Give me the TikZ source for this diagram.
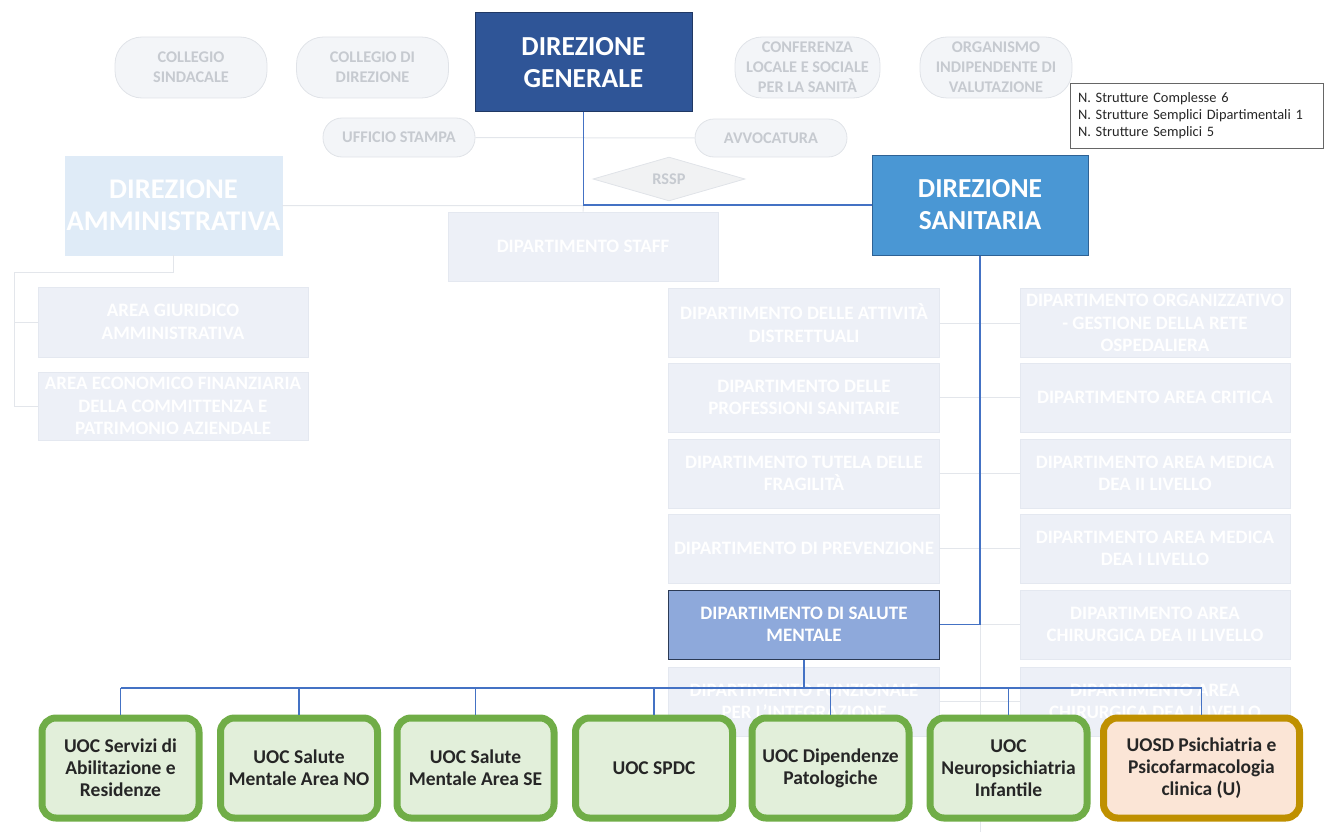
\documentclass[tikz,border=0pt]{standalone}
\usepackage{fontspec}
\setmainfont{Carlito}
\usepackage{tikz}
\usetikzlibrary{shapes.geometric}

\definecolor{dgblue}{HTML}{2F5597}
\definecolor{dgedge}{HTML}{203864}
\definecolor{dsblue}{HTML}{4A97D4}
\definecolor{dsedge}{HTML}{2E6295}
\definecolor{dsmfill}{HTML}{8EA9DB}
\definecolor{dsmedge}{HTML}{2B3A55}
\definecolor{fadefill}{HTML}{EDF0F7}
\definecolor{fadeedge}{HTML}{E4E8F0}
\definecolor{dafill}{HTML}{DFEBF7}
\definecolor{pillfill}{HTML}{F3F5F8}
\definecolor{pilledge}{HTML}{E0E3E8}
\definecolor{pilltext}{HTML}{C6CAD0}
\definecolor{linkblue}{HTML}{4472C4}
\definecolor{fadeline}{HTML}{E3E6EB}
\definecolor{uocedge}{HTML}{70AD47}
\definecolor{uocfill}{HTML}{E2EFDA}
\definecolor{uosdedge}{HTML}{BF9000}
\definecolor{uosdfill}{HTML}{FBE5D6}

\newcommand\bigtxt{\fontsize{27.5}{32}\selectfont\bfseries}
\newcommand\deptxt{\fontsize{19}{22.5}\selectfont\bfseries}
\newcommand\pilltxt{\fontsize{16.3}{20}\selectfont\bfseries}
\newcommand\uoctxt{\fontsize{19.5}{22}\selectfont\bfseries}
\newcommand\infotxt{\fontsize{14.4}{17}\selectfont}

\begin{document}
\begin{tikzpicture}[x=1pt,y=-1pt,
    topbox/.style={draw=#1, line width=1pt, align=center, text=white, font=\bigtxt,
      minimum width=216pt, minimum height=99pt, inner sep=0pt},
    fade/.style={draw=fadeedge, fill=fadefill, line width=0.8pt, align=center, text=white,
      font=\deptxt, minimum width=271pt, minimum height=69pt, inner sep=0pt},
    pill/.style={draw=pilledge, fill=pillfill, line width=0.8pt, rounded corners=27pt,
      align=center, text=pilltext, font=\pilltxt, minimum width=152pt, minimum height=61pt,
      inner sep=0pt},
    uoc/.style={draw=uocedge, fill=uocfill, line width=7pt, rounded corners=14pt,
      align=center, text=black!85, font=\uoctxt, minimum width=157pt, minimum height=100pt,
      inner sep=0pt},
    link/.style={draw=linkblue, line width=1.1pt},
    faint/.style={draw=fadeline, line width=1pt}]
  \useasboundingbox (0,0) rectangle (1324,832);

  % Organi di staff
  \node[pill] (sind) at (191,67.5) {COLLEGIO\\SINDACALE};
  \node[pill] (coll) at (372.5,67.5) {COLLEGIO DI\\DIREZIONE};
  \node[pill, minimum width=145pt] (conf) at (807.5,67.5) {CONFERENZA\\LOCALE E SOCIALE\\PER LA SANIT\`A};
  \node[pill] (oiv) at (996,67.5) {ORGANISMO\\INDIPENDENTE DI\\VALUTAZIONE};
  \node[pill, minimum height=39pt, rounded corners=19pt] (stampa) at (399,137.5) {UFFICIO STAMPA};
  \node[pill, minimum height=38pt, rounded corners=19pt] (avvo) at (771,138) {AVVOCATURA};
  \node[diamond, draw=pilledge, fill=pillfill!80!gray!40, line width=0.8pt, text=pilltext,
    font=\pilltxt, minimum width=152pt, minimum height=38pt, inner sep=0pt] (rssp) at (669,179) {RSSP};

  % Direzione amministrativa e aree
  \node[fade, fill=dafill, draw=dafill, font=\fontsize{28.5}{32}\selectfont\bfseries,
    minimum width=217pt, minimum height=99pt] (da) at (173.5,205.5) {DIREZIONE\\AMMINISTRATIVA};
  \node[fade, minimum width=270pt] (staff) at (583,246.5) {DIPARTIMENTO STAFF};
  \node[fade, minimum width=270pt, minimum height=70pt] (giur) at (173,322) {AREA GIURIDICO\\AMMINISTRATIVA};
  \node[fade, minimum width=270pt, minimum height=68pt] (econ) at (173,406)
    {AREA ECONOMICO FINANZIARIA\\DELLA COMMITTENZA E\\PATRIMONIO AZIENDALE};

  % Dipartimenti (colonne)
  \foreach \n/\y/\l/\r in {
      1/323/{DIPARTIMENTO DELLE ATTIVIT\`A\\DISTRETTUALI}/{DIPARTIMENTO ORGANIZZATIVO\\- GESTIONE DELLA RETE\\OSPEDALIERA},
      2/397.5/{DIPARTIMENTO DELLE\\PROFESSIONI SANITARIE}/{DIPARTIMENTO AREA CRITICA},
      3/473.5/{DIPARTIMENTO TUTELA DELLE\\FRAGILIT\`A}/{DIPARTIMENTO AREA MEDICA\\DEA II LIVELLO},
      4/548.5/{DIPARTIMENTO DI PREVENZIONE}/{DIPARTIMENTO AREA MEDICA\\DEA I LIVELLO},
      6/701.5/{DIPARTIMENTO FUNZIONALE\\PER L'INTEGRAZIONE}/{DIPARTIMENTO AREA\\CHIRURGICA DEA I LIVELLO}} {
    \node[fade] (sx\n) at (804,\y) {\l};
    \node[fade, minimum width=270pt] (dx\n) at (1155,\y) {\r};
  }
  \node[fade, minimum width=270pt] (dx5) at (1155,624.5) {DIPARTIMENTO AREA\\CHIRURGICA DEA II LIVELLO};

  % Linee secondarie
  \coordinate (lbus) at (14,272);
  \coordinate (dsmj) at (980,624.5);
  \draw[faint] (stampa.east) -- (avvo.west);
  \draw[faint] (da.east) -- (583.5,205.5) -- (staff.north);
  \draw[faint] (da.south) |- (lbus) |- (giur.west);
  \draw[faint] (lbus) |- (econ.west);
  \foreach \n in {1,2,3,4,6} {
    \draw[faint] (sx\n.east) -- (dx\n.west);
  }
  \draw[faint] (dsmj) -- (dx5.west);
  \draw[faint] (dsmj) -- (980,832);

  % Direzioni
  \node[topbox=dgedge, fill=dgblue, minimum width=217pt] (dg) at (583.5,62.5) {DIREZIONE\\GENERALE};
  \node[topbox=dsedge, fill=dsblue, minimum height=100pt] (ds) at (980,205) {DIREZIONE\\SANITARIA};
  \node[fade, draw=dsmedge, fill=dsmfill, line width=1pt] (dsm) at (804,624.5) {DIPARTIMENTO DI SALUTE\\MENTALE};

  % Riepilogo strutture
  \node[draw=black!60, line width=0.8pt, align=left, font=\infotxt, text=black!85,
    text width=237pt, inner xsep=8pt, minimum height=65pt] (info) at (1196.5,115.5)
    {N. Strutture Complesse 6\\N. Strutture Semplici Dipartimentali 1\\N. Strutture Semplici 5};

  % Collegamenti
  \coordinate (bus) at (0,688);
  \draw[link] (dg.south) |- (ds.west);
  \draw[link] (ds.south) |- (dsm.east);
  \draw[link] (dsm.south) -- (dsm.south |- bus);

  % Unita operative
  \foreach \n/\x/\t in {
      1/120.5/{UOC Servizi di\\Abilitazione e\\Residenze},
      2/299/{UOC Salute\\Mentale Area NO},
      3/475.5/{UOC Salute\\Mentale Area SE},
      4/654/{UOC SPDC},
      5/830.5/{UOC Dipendenze\\Patologiche},
      6/1008.5/{UOC\\Neuropsichiatria\\Infantile}} {
    \node[uoc] (uoc\n) at (\x,768) {\t};
  }
  \node[uoc, draw=uosdedge, fill=uosdfill, minimum width=196pt] (uosd) at (1201.5,768)
    {UOSD Psichiatria e\\Psicofarmacologia\\clinica (U)};

  \draw[link] (uoc1.north |- bus) -- (uosd.north |- bus) -- (uosd.north);
  \foreach \n in {1,...,6} {
    \draw[link] (uoc\n.north |- bus) -- (uoc\n.north);
  }
\end{tikzpicture}
\end{document}
